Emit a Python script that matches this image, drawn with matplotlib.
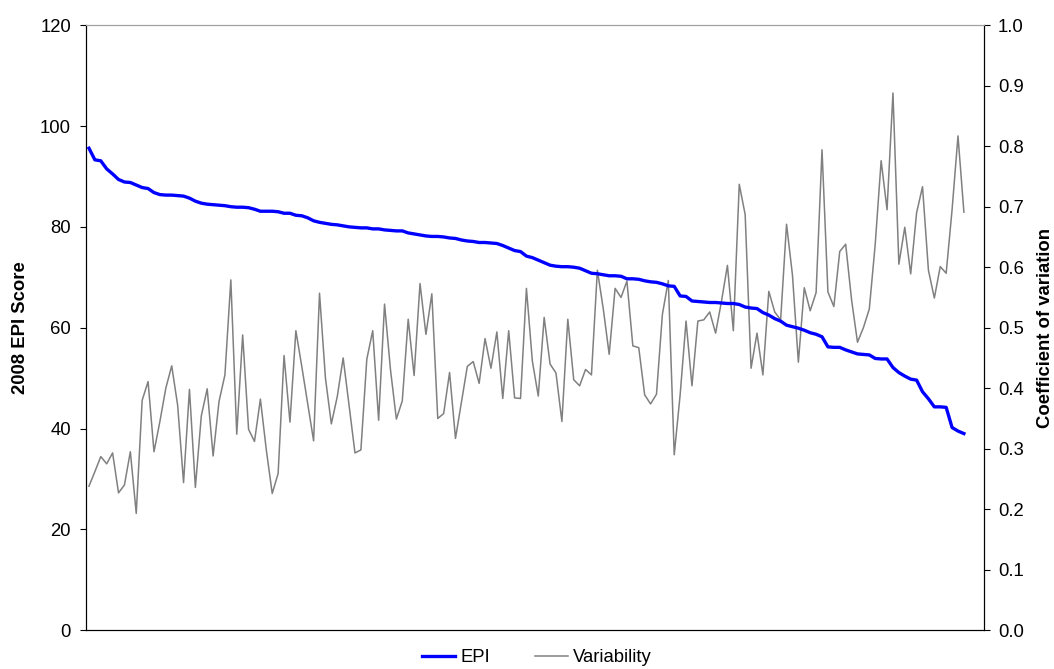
import matplotlib
matplotlib.use("Agg")
import matplotlib.pyplot as plt
from matplotlib.ticker import FormatStrFormatter

plt.rcParams['font.family'] = ['Liberation Sans', 'DejaVu Sans']

epi = [95.6, 93.3, 93.1, 91.5, 90.5, 89.4, 88.9, 88.8, 88.3, 87.8,
       87.6, 86.8, 86.4, 86.3, 86.3, 86.2, 86.1, 85.7, 85.1, 84.7,
       84.5, 84.4, 84.3, 84.2, 84.0, 83.9, 83.9, 83.8, 83.5, 83.1,
       83.1, 83.1, 83.0, 82.7, 82.7, 82.3, 82.2, 81.8, 81.2, 80.9,
       80.7, 80.5, 80.4, 80.2, 80.0, 79.9, 79.8, 79.8, 79.6, 79.6,
       79.4, 79.3, 79.2, 79.2, 78.8, 78.6, 78.4, 78.2, 78.1, 78.1,
       78.0, 77.8, 77.7, 77.4, 77.2, 77.1, 76.9, 76.9, 76.8, 76.7,
       76.3, 75.8, 75.3, 75.1, 74.2, 73.9, 73.4, 72.9, 72.4, 72.2,
       72.1, 72.1, 72.0, 71.8, 71.3, 70.8, 70.7, 70.5, 70.3, 70.3,
       70.2, 69.7, 69.7, 69.6, 69.3, 69.1, 69.0, 68.7, 68.3, 68.2,
       66.3, 66.2, 65.3, 65.2, 65.1, 65.0, 65.0, 64.9, 64.8, 64.8,
       64.6, 64.1, 63.9, 63.8, 63.0, 62.5, 61.8, 61.3, 60.5, 60.2,
       59.9, 59.5, 59.0, 58.7, 58.2, 56.2, 56.1, 56.1, 55.6, 55.2,
       54.8, 54.7, 54.6, 53.9, 53.8, 53.8, 52.1, 51.1, 50.4, 49.8,
       49.6, 47.3, 45.9, 44.3, 44.3, 44.2, 40.2, 39.5, 39.0]

variability = [0.238, 0.262, 0.287, 0.275, 0.293, 0.227, 0.240, 0.295, 0.193, 0.380,
               0.411, 0.295, 0.345, 0.400, 0.437, 0.372, 0.244, 0.398, 0.236, 0.354,
               0.399, 0.288, 0.378, 0.422, 0.579, 0.324, 0.488, 0.332, 0.312, 0.382,
               0.298, 0.226, 0.259, 0.454, 0.344, 0.495, 0.436, 0.375, 0.313, 0.557,
               0.417, 0.341, 0.386, 0.450, 0.371, 0.293, 0.298, 0.448, 0.495, 0.347,
               0.539, 0.431, 0.349, 0.379, 0.514, 0.421, 0.573, 0.489, 0.556, 0.350,
               0.358, 0.426, 0.317, 0.376, 0.436, 0.444, 0.408, 0.482, 0.433, 0.493,
               0.383, 0.495, 0.384, 0.383, 0.565, 0.445, 0.387, 0.517, 0.440, 0.425,
               0.345, 0.514, 0.414, 0.404, 0.431, 0.422, 0.595, 0.531, 0.456, 0.565,
               0.550, 0.577, 0.470, 0.467, 0.389, 0.374, 0.390, 0.522, 0.578, 0.290,
               0.389, 0.511, 0.404, 0.511, 0.513, 0.526, 0.491, 0.544, 0.603, 0.495,
               0.737, 0.687, 0.433, 0.491, 0.422, 0.560, 0.526, 0.513, 0.671, 0.587,
               0.443, 0.566, 0.528, 0.558, 0.794, 0.559, 0.535, 0.626, 0.638, 0.546,
               0.476, 0.500, 0.531, 0.638, 0.776, 0.695, 0.888, 0.605, 0.666, 0.589,
               0.690, 0.733, 0.595, 0.549, 0.601, 0.590, 0.695, 0.817, 0.691]

left_ticks = [0, 20, 40, 60, 80, 100, 120]
right_ticks = [0.0, 0.1, 0.2, 0.3, 0.4, 0.5, 0.6, 0.7, 0.8, 0.9, 1.0]

x = list(range(len(epi)))
FS = 13.3

fig = plt.figure(figsize=(10.54, 6.69), dpi=100)
ax = fig.add_axes([86/1054, 1 - 630.2/669, 898/1054, 605/669])
ax2 = ax.twinx()

l1, = ax.plot(x, epi, color='#0000FF', lw=2.4, label='EPI', zorder=3)
l2, = ax2.plot(x, variability, color='#808080', lw=1.1, label='Variability', zorder=2)
ax.set_zorder(ax2.get_zorder() + 1)
ax.patch.set_visible(False)

ax.set_xlim(-0.5, 151.4)
ax.set_ylim(0, 120)
ax2.set_ylim(0, 1.0)
ax.set_xticks([])
ax.set_yticks(left_ticks)
ax2.set_yticks(right_ticks)
ax2.yaxis.set_major_formatter(FormatStrFormatter('%.1f'))

ax.tick_params(axis='y', labelsize=FS, length=4.3, width=0.8, color='black', pad=6.5)
ax2.tick_params(axis='y', labelsize=FS, length=4.3, width=0.8, color='black', pad=5.8)
for a in (ax, ax2):
    for s in a.spines.values():
        s.set_linewidth(0.8)
    a.spines['top'].set_color('#a0a0a0')

ax.set_ylabel('2008 EPI Score', fontsize=FS, fontweight='bold', labelpad=8)
ax2.set_ylabel('Coefficient of variation', fontsize=FS, fontweight='bold', labelpad=9.5)

fig.legend(handles=[l1, l2], labels=['EPI', 'Variability'], loc='center',
           bbox_to_anchor=(537/1054, 1 - 658/669), ncol=2, frameon=False,
           fontsize=FS, handlelength=1.8, columnspacing=2.4, handletextpad=0.3,
           borderpad=0.1)

fig.savefig('out.png', dpi=100)
